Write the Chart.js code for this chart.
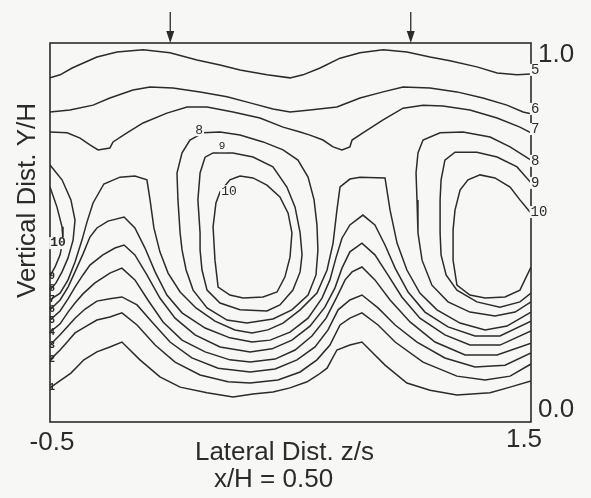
<!DOCTYPE html>
<html>
<head>
<meta charset="utf-8">
<script src="https://cdn.jsdelivr.net/npm/chart.js@4/dist/chart.umd.min.js"></script>
<style>
  html, body { margin: 0; padding: 0; background: #f7f7f5; }
  canvas { display: block; }
</style>
</head>
<body>
<canvas id="canvas" width="591" height="498"></canvas>
<script>
// contour lines as [z/s, Y/H] pairs

// upper contours that run across the whole width
const contour5 = [[-0.500,0.908],[-0.458,0.916],[-0.408,0.934],[-0.305,0.963],[-0.221,0.976],[-0.113,0.982],[-0.001,0.974],[0.111,0.955],[0.207,0.942],[0.290,0.929],[0.402,0.916],[0.498,0.908],[0.552,0.916],[0.623,0.934],[0.706,0.960],[0.789,0.974],[0.885,0.982],[0.984,0.976],[1.080,0.963],[1.163,0.953],[1.275,0.937],[1.359,0.921],[1.442,0.916],[1.500,0.918]];
const contour6 = [[-0.500,0.818],[-0.417,0.823],[-0.321,0.836],[-0.251,0.855],[-0.155,0.876],[-0.084,0.884],[0.011,0.881],[0.124,0.871],[0.236,0.858],[0.332,0.842],[0.427,0.826],[0.498,0.818],[0.581,0.823],[0.693,0.831],[0.789,0.855],[0.885,0.871],[0.968,0.884],[1.080,0.881],[1.192,0.871],[1.300,0.855],[1.400,0.836],[1.467,0.818],[1.500,0.813]];
const contour7 = [[-0.500,0.765],[-0.429,0.763],[-0.375,0.749],[-0.334,0.731],[-0.300,0.718],[-0.251,0.723],[-0.238,0.739],[-0.180,0.763],[-0.113,0.789],[-0.014,0.815],[0.070,0.831],[0.153,0.831],[0.261,0.818],[0.373,0.802],[0.469,0.778],[0.540,0.765],[0.581,0.757],[0.635,0.744],[0.677,0.726],[0.714,0.718],[0.747,0.726],[0.756,0.744],[0.801,0.763],[0.885,0.797],[0.968,0.828],[1.051,0.836],[1.134,0.834],[1.246,0.823],[1.359,0.802],[1.454,0.778],[1.500,0.763]];

// closed loops around the core at z/s ~ 0.33
const mid8 = [[0.136,0.763],[0.207,0.765],[0.290,0.757],[0.386,0.739],[0.469,0.718],[0.531,0.691],[0.573,0.646],[0.598,0.586],[0.610,0.520],[0.614,0.454],[0.606,0.388],[0.573,0.335],[0.506,0.296],[0.427,0.272],[0.319,0.261],[0.236,0.269],[0.153,0.301],[0.095,0.348],[0.066,0.401],[0.049,0.454],[0.041,0.499],[0.032,0.586],[0.028,0.657],[0.049,0.710],[0.082,0.744],[0.136,0.763]];
const mid9 = [[0.145,0.699],[0.178,0.710],[0.261,0.710],[0.344,0.699],[0.427,0.673],[0.485,0.620],[0.519,0.567],[0.540,0.499],[0.548,0.441],[0.540,0.396],[0.510,0.348],[0.456,0.309],[0.402,0.293],[0.290,0.296],[0.207,0.314],[0.153,0.348],[0.132,0.401],[0.124,0.454],[0.124,0.499],[0.115,0.586],[0.124,0.657],[0.145,0.699]];
const mid10 = [[0.290,0.649],[0.344,0.644],[0.402,0.625],[0.456,0.594],[0.490,0.551],[0.506,0.499],[0.498,0.435],[0.477,0.383],[0.444,0.343],[0.386,0.330],[0.303,0.327],[0.248,0.335],[0.199,0.356],[0.186,0.427],[0.178,0.515],[0.190,0.578],[0.207,0.607],[0.248,0.639],[0.290,0.649]];

// core near z/s ~ 1.3, cut by the right edge
const right8 = [[1.500,0.691],[1.413,0.726],[1.330,0.752],[1.217,0.765],[1.122,0.763],[1.051,0.744],[1.030,0.710],[1.022,0.657],[1.026,0.586],[1.030,0.499],[1.047,0.427],[1.088,0.361],[1.155,0.317],[1.246,0.290],[1.350,0.280],[1.434,0.290],[1.500,0.317]];
const right9 = [[1.500,0.631],[1.442,0.673],[1.359,0.699],[1.275,0.712],[1.184,0.712],[1.142,0.691],[1.126,0.638],[1.122,0.586],[1.122,0.499],[1.126,0.441],[1.147,0.388],[1.192,0.348],[1.275,0.317],[1.371,0.303],[1.454,0.317],[1.500,0.340]];
const right10 = [[1.500,0.551],[1.454,0.586],[1.413,0.620],[1.350,0.644],[1.288,0.652],[1.238,0.639],[1.205,0.612],[1.184,0.559],[1.176,0.507],[1.176,0.427],[1.192,0.361],[1.246,0.335],[1.309,0.327],[1.392,0.330],[1.454,0.348],[1.500,0.409]];

// pieces of the neighbouring core showing at the left edge
const leftOuter = [[-0.500,0.678],[-0.450,0.639],[-0.413,0.586],[-0.396,0.533],[-0.404,0.480],[-0.425,0.433],[-0.450,0.396],[-0.475,0.367],[-0.500,0.348]];
const leftInner = [[-0.500,0.620],[-0.471,0.567],[-0.450,0.515],[-0.446,0.480],[-0.458,0.441],[-0.479,0.409],[-0.500,0.385]];

// near-wall contours, highest first
const lower7 = [[-0.500,0.322],[-0.458,0.340],[-0.425,0.375],[-0.396,0.422],[-0.367,0.480],[-0.346,0.528],[-0.321,0.578],[-0.276,0.628],[-0.209,0.646],[-0.147,0.649],[-0.097,0.639],[-0.084,0.586],[-0.068,0.512],[-0.043,0.449],[-0.009,0.393],[0.041,0.343],[0.107,0.301],[0.186,0.266],[0.269,0.243],[0.340,0.235],[0.406,0.243],[0.469,0.261],[0.540,0.296],[0.610,0.340],[0.652,0.401],[0.677,0.472],[0.693,0.559],[0.706,0.620],[0.747,0.641],[0.789,0.646],[0.893,0.644],[0.914,0.559],[0.943,0.472],[0.984,0.401],[1.038,0.340],[1.109,0.296],[1.205,0.261],[1.309,0.243],[1.400,0.253],[1.500,0.290]];
const lower6 = [[-0.500,0.296],[-0.458,0.322],[-0.425,0.356],[-0.396,0.396],[-0.363,0.443],[-0.334,0.488],[-0.305,0.512],[-0.259,0.530],[-0.192,0.541],[-0.147,0.512],[-0.105,0.459],[-0.063,0.396],[-0.014,0.335],[0.049,0.288],[0.145,0.248],[0.248,0.222],[0.340,0.211],[0.415,0.216],[0.498,0.237],[0.573,0.274],[0.631,0.327],[0.664,0.375],[0.689,0.433],[0.714,0.485],[0.747,0.520],[0.801,0.546],[0.851,0.520],[0.893,0.467],[0.935,0.406],[0.989,0.343],[1.059,0.290],[1.155,0.251],[1.267,0.227],[1.371,0.227],[1.500,0.266]];
const lower5 = [[-0.500,0.269],[-0.458,0.293],[-0.425,0.325],[-0.396,0.356],[-0.363,0.388],[-0.334,0.414],[-0.280,0.441],[-0.230,0.459],[-0.192,0.467],[-0.147,0.441],[-0.097,0.388],[-0.043,0.327],[0.020,0.274],[0.103,0.230],[0.207,0.198],[0.332,0.185],[0.423,0.193],[0.506,0.216],[0.581,0.253],[0.643,0.303],[0.685,0.354],[0.714,0.406],[0.747,0.449],[0.797,0.472],[0.851,0.441],[0.905,0.388],[0.963,0.330],[1.038,0.274],[1.142,0.230],[1.246,0.203],[1.371,0.203],[1.500,0.240]];
const lower4 = [[-0.500,0.237],[-0.458,0.259],[-0.425,0.290],[-0.396,0.314],[-0.363,0.338],[-0.313,0.367],[-0.251,0.393],[-0.201,0.406],[-0.147,0.375],[-0.093,0.322],[-0.030,0.264],[0.049,0.216],[0.145,0.185],[0.248,0.164],[0.332,0.158],[0.436,0.166],[0.519,0.190],[0.589,0.227],[0.648,0.274],[0.693,0.330],[0.727,0.375],[0.756,0.396],[0.797,0.409],[0.851,0.375],[0.914,0.322],[0.997,0.264],[1.101,0.211],[1.226,0.177],[1.359,0.177],[1.500,0.208]];
const lower3 = [[-0.500,0.203],[-0.458,0.230],[-0.425,0.253],[-0.396,0.274],[-0.354,0.298],[-0.305,0.319],[-0.251,0.325],[-0.201,0.330],[-0.138,0.309],[-0.076,0.264],[-0.001,0.211],[0.090,0.169],[0.199,0.142],[0.332,0.132],[0.436,0.140],[0.527,0.164],[0.602,0.198],[0.656,0.243],[0.698,0.296],[0.747,0.322],[0.797,0.335],[0.864,0.301],[0.935,0.256],[1.026,0.211],[1.142,0.169],[1.267,0.145],[1.392,0.150],[1.500,0.182]];
const lower2 = [[-0.500,0.164],[-0.458,0.190],[-0.425,0.214],[-0.396,0.235],[-0.354,0.251],[-0.305,0.269],[-0.251,0.277],[-0.201,0.288],[-0.138,0.256],[-0.063,0.203],[0.020,0.158],[0.124,0.124],[0.240,0.106],[0.332,0.103],[0.448,0.111],[0.540,0.132],[0.610,0.164],[0.664,0.203],[0.706,0.256],[0.747,0.274],[0.797,0.288],[0.864,0.256],[0.935,0.211],[1.051,0.158],[1.192,0.121],[1.309,0.111],[1.413,0.121],[1.500,0.153]];
const lower1 = [[-0.500,0.090],[-0.471,0.103],[-0.413,0.129],[-0.359,0.164],[-0.305,0.185],[-0.251,0.198],[-0.201,0.211],[-0.126,0.164],[-0.043,0.119],[0.041,0.092],[0.153,0.077],[0.261,0.066],[0.344,0.074],[0.427,0.079],[0.498,0.090],[0.569,0.106],[0.614,0.124],[0.652,0.142],[0.693,0.190],[0.747,0.203],[0.797,0.211],[0.893,0.150],[0.984,0.103],[1.080,0.084],[1.192,0.071],[1.330,0.077],[1.413,0.092],[1.500,0.108]];

// contour labels: [text, z/s, Y/H]
const edgeLabels = [['5',1.517,0.929],['6',1.517,0.826],['7',1.517,0.773],['8',1.517,0.689],['9',1.517,0.631],['10',1.533,0.554]];
const innerLabels = [['8',0.120,0.770],['9',0.215,0.728],['10',0.244,0.609],['10',-0.467,0.472]];
const wallLabels = [['9',-0.492,0.385],['8',-0.492,0.351],['7',-0.492,0.322],['6',-0.492,0.296],['5',-0.492,0.269],['4',-0.492,0.237],['3',-0.492,0.203],['2',-0.492,0.164],['1',-0.492,0.090]];

// axis end values and marker arrows
const zTicks = [-0.5, 1.5];
const yTicks = [0.0, 1.0];
const arrowZ = [0.0, 1.0];

const ink = '#2b2b2b';
const paper = '#f7f7f5';

const contours = [contour5, contour6, contour7, mid8, mid9, mid10, right8, right9, right10,
  leftOuter, leftInner, lower7, lower6, lower5, lower4, lower3, lower2, lower1];

const datasets = contours.map(c => ({
  data: c.map(p => ({ x: p[0], y: p[1] })),
  showLine: true,
  borderColor: ink,
  borderWidth: 1.5,
  pointRadius: 0,
  tension: 0,
  fill: false
}));

function putLabel(ctx, txt, px, py, font, bg) {
  ctx.font = font;
  ctx.textAlign = 'center';
  ctx.textBaseline = 'middle';
  if (bg) {
    const w = ctx.measureText(txt).width;
    ctx.fillStyle = paper;
    ctx.fillRect(px - w / 2 - 1, py - 6, w + 2, 12);
  }
  ctx.fillStyle = ink;
  ctx.fillText(txt, px, py);
}

const frameAndText = {
  id: 'frameAndText',
  afterDatasetsDraw(chart) {
    const { ctx, chartArea: a, scales: { x, y } } = chart;
    ctx.save();
    ctx.strokeStyle = ink;
    ctx.fillStyle = ink;
    ctx.lineWidth = 1.6;
    ctx.strokeRect(a.left, a.top, a.right - a.left, a.bottom - a.top);

    // arrows above the frame
    ctx.lineWidth = 1.3;
    arrowZ.forEach(z => {
      const px = x.getPixelForValue(z);
      ctx.beginPath();
      ctx.moveTo(px, a.top - 31);
      ctx.lineTo(px, a.top - 10);
      ctx.stroke();
      ctx.beginPath();
      ctx.moveTo(px - 4, a.top - 12);
      ctx.lineTo(px + 4, a.top - 12);
      ctx.lineTo(px, a.top);
      ctx.closePath();
      ctx.fill();
    });

    // contour labels
    edgeLabels.forEach(l => putLabel(ctx, l[0], x.getPixelForValue(l[1]), y.getPixelForValue(l[2]), '14px "Liberation Mono"', true));
    innerLabels.forEach((l, i) => putLabel(ctx, l[0], x.getPixelForValue(l[1]), y.getPixelForValue(l[2]),
      (i === 1 ? '11px' : i === 3 ? 'bold 13px' : '13px') + ' "Liberation Mono"', true));
    wallLabels.forEach(l => putLabel(ctx, l[0], x.getPixelForValue(l[1]), y.getPixelForValue(l[2]), 'bold 10px "Liberation Mono"', false));

    // end values on the axes
    ctx.font = '26px "Liberation Sans", Arial, sans-serif';
    ctx.fillStyle = ink;
    ctx.textBaseline = 'alphabetic';
    ctx.textAlign = 'center';
    ctx.fillText('-0.5', x.getPixelForValue(zTicks[0]) + 2, a.bottom + 28);
    ctx.fillText('1.5', x.getPixelForValue(zTicks[1]) - 7, a.bottom + 25);
    ctx.textAlign = 'left';
    ctx.fillText('1.0', a.right + 7, y.getPixelForValue(yTicks[1]) + 19);
    ctx.fillText('0.0', a.right + 7, y.getPixelForValue(yTicks[0]) - 5);

    // axis titles
    const mid = (a.left + a.right) / 2;
    ctx.textAlign = 'center';
    ctx.fillText('Lateral Dist. z/s', mid - 6, a.bottom + 38);
    ctx.fillText('x/H = 0.50', mid - 17, a.bottom + 65);
    ctx.translate(35, (a.top + a.bottom) / 2 - 32);
    ctx.rotate(-Math.PI / 2);
    ctx.fillText('Vertical Dist. Y/H', 0, 0);
    ctx.restore();
  }
};

new Chart(document.getElementById('canvas'), {
  type: 'scatter',
  data: { datasets },
  options: {
    responsive: false,
    animation: false,
    events: [],
    layout: { padding: { left: 50, top: 43, right: 60, bottom: 76 } },
    plugins: { legend: { display: false }, tooltip: { enabled: false } },
    scales: {
      x: { type: 'linear', min: -0.5, max: 1.5, display: false },
      y: { type: 'linear', min: 0, max: 1, display: false }
    }
  },
  plugins: [frameAndText]
});
</script>
</body>
</html>
